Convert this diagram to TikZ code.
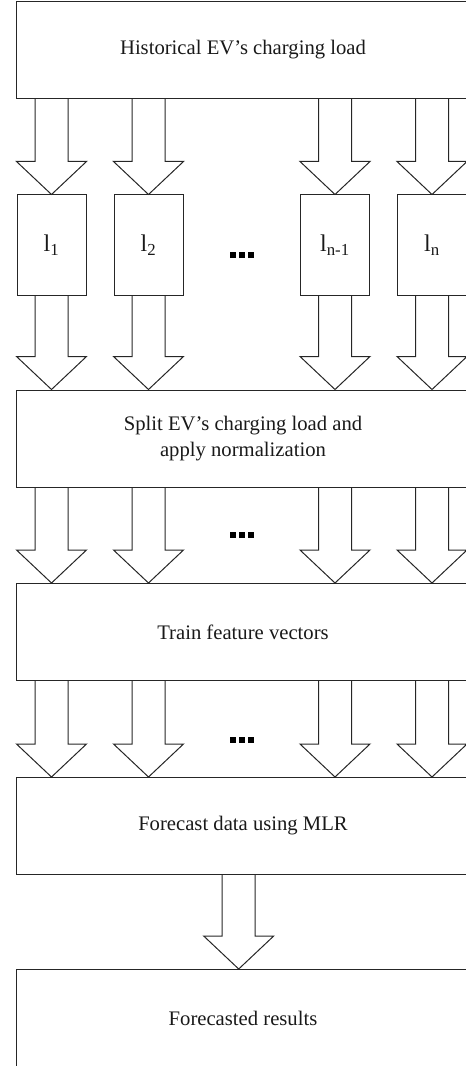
\documentclass[tikz,border=0pt]{standalone}
\usepackage{fontspec}
\setmainfont{Liberation Serif}
\usetikzlibrary{calc}

\tikzset{
	stage/.style={draw=black!85, line width=0.75pt, minimum width=339.75pt,
		minimum height=72.75pt, inner sep=0pt, align=center,
		font=\fontsize{15.5}{19}\selectfont, text=black!90},
	part/.style={draw=black!85, line width=0.75pt, minimum width=51.75pt,
		minimum height=75pt, inner sep=0pt,
		font=\fontsize{18}{20}\selectfont, text=black!90},
	hollow/.style={draw=black!85, line width=0.75pt, line join=miter},
	gap/.style={inner sep=0pt, text=black},
}
% hollow block arrow from a box edge (#1) down to a tip (#2)
\newcommand{\blockarrow}[2]{%
	\draw[hollow] ($(#1)+(-16.5,0)$) -- ($(#2)+(-16.5,-33)$) -- ($(#2)+(-35,-33)$)
		-- (#2) -- ($(#2)+(35,-33)$) -- ($(#2)+(16.5,-33)$) -- ($(#1)+(16.5,0)$);}
\newcommand{\sqdots}{\rule{4.5pt}{4.8pt}\hspace{2.2pt}\rule{4.5pt}{4.8pt}\hspace{2.2pt}\rule{4.5pt}{4.8pt}}

\begin{document}
\begin{tikzpicture}
		[x=0.75pt, y=-0.75pt]
		\path[use as bounding box, clip] (0,0) rectangle (466,1066);

		\node[stage] (hist) at (243,50) {Historical EV’s charging load};
		\node[stage] (split) at (243,438.5) {Split EV’s charging load and\\apply normalization};
		\node[stage] (train) at (243,632) {Train feature vectors};
		\node[stage] (fore) at (243,826) {Forecast data using MLR};
		\node[stage] (res) at (243,1018) {Forecasted results};

		\foreach \i/\x/\lab in {1/51.5/1, 2/148.5/2, 3/335/n-1, 4/432/n}
			\node[part] (l\i) at (\x,245) {l\textsubscript{\lab}};

		\node[gap] (dotsA) at (242,255) {\sqdots};
		\node[gap] (dotsB) at (242,534.7) {\sqdots};
		\node[gap] (dotsC) at (242,739.7) {\sqdots};

		\foreach \i in {1,...,4} {
			\blockarrow{l\i.north |- hist.south}{l\i.north}
			\blockarrow{l\i.south}{l\i.south |- split.north}
			\blockarrow{l\i.south |- split.south}{l\i.south |- train.north}
			\blockarrow{l\i.south |- train.south}{l\i.south |- fore.north}
		}
		\coordinate (mid) at ($(fore.south)+(-4.3,0)$);
		\blockarrow{mid}{mid |- res.north}
	\end{tikzpicture}
\end{document}
